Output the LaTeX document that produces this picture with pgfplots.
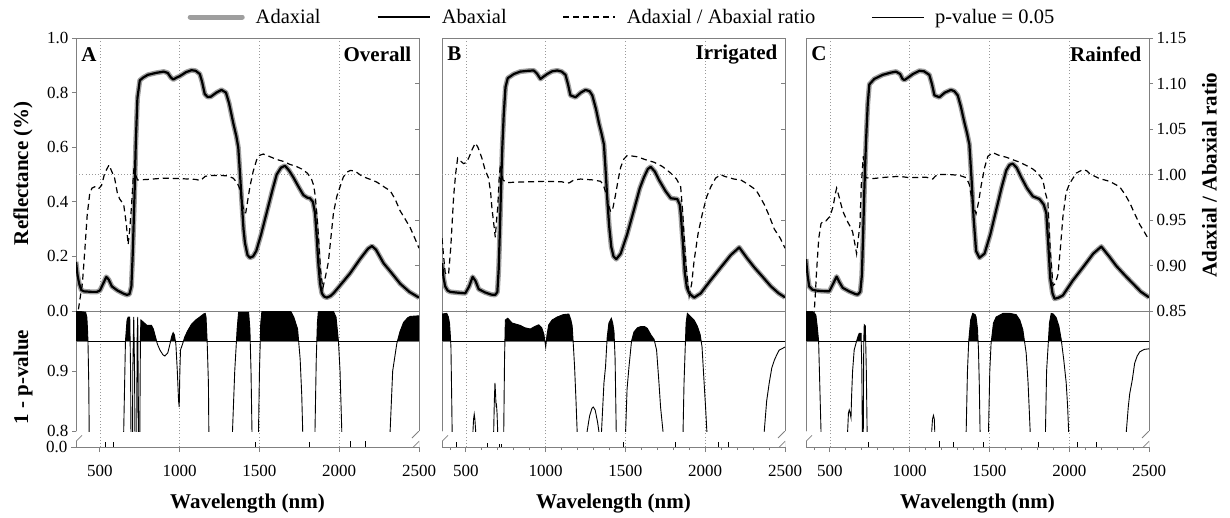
\documentclass[border=0pt]{standalone}
\usepackage{fontspec}
\setmainfont{Liberation Serif}
\usepackage{pgfplots}
\usepackage{pgfplotstable}
\pgfplotsset{compat=1.18}

\definecolor{frame}{gray}{0.5}
\definecolor{adax}{gray}{0.62}
\definecolor{gridc}{gray}{0.6}

\newcommand\tickfont{\fontsize{17}{20}\selectfont}
\newcommand\labfont{\fontsize{21}{24}\selectfont\bfseries}
\newcommand\legfont{\fontsize{20.5}{24}\selectfont}

% ---------------- data ----------------
\pgfplotstableread{
w v
350 0.18
360 0.13
370 0.10
383 0.077
400 0.072
450 0.070
480 0.070
500 0.075
520 0.10
540 0.125
555 0.115
575 0.090
610 0.075
650 0.063
670 0.059
685 0.062
697 0.09
705 0.20
712 0.33
718 0.45
725 0.62
735 0.78
750 0.845
771 0.855
800 0.865
850 0.872
900 0.877
925 0.872
945 0.855
960 0.848
980 0.855
1000 0.86
1040 0.875
1074 0.882
1100 0.880
1126 0.868
1140 0.84
1157 0.795
1175 0.784
1195 0.785
1230 0.80
1262 0.81
1290 0.80
1310 0.76
1335 0.69
1355 0.64
1367 0.60
1375 0.53
1388 0.41
1400 0.30
1409 0.25
1425 0.205
1440 0.195
1460 0.20
1480 0.22
1510 0.28
1545 0.36
1580 0.44
1608 0.50
1635 0.525
1660 0.532
1685 0.515
1712 0.49
1745 0.455
1775 0.425
1800 0.415
1817 0.413
1835 0.40
1848 0.36
1858 0.28
1869 0.175
1880 0.10
1891 0.065
1905 0.053
1922 0.049
1945 0.055
1964 0.065
2000 0.09
2068 0.138
2130 0.19
2180 0.228
2205 0.238
2230 0.225
2278 0.175
2330 0.138
2382 0.10
2440 0.07
2500 0.049
}\reflA

\pgfplotstableread{
w v
350 0.83
360 0.845
372 0.86
390 0.88
405 0.916
420 0.955
436 0.979
450 0.985
467 0.9865
490 0.984
510 0.988
530 1.0015
557 1.0105
575 1.003
592 0.996
610 0.979
624 0.973
649 0.967
665 0.946
677 0.923
687 0.94
697 0.963
710 1.0
718 1.016
725 1.0
735 0.994
800 0.9946
900 0.996
1000 0.9955
1100 0.9946
1130 0.9934
1160 0.998
1200 0.999
1250 0.999
1300 0.9985
1335 0.996
1360 0.991
1375 0.985
1390 0.97
1405 0.958
1414 0.958
1425 0.97
1440 0.9865
1460 1.003
1482 1.016
1500 1.021
1524 1.0225
1560 1.020
1608 1.0165
1650 1.0144
1692 1.011
1730 1.009
1765 1.006
1800 1.0015
1825 0.9955
1840 0.988
1850 0.976
1860 0.955
1869 0.934
1883 0.895
1897 0.875
1915 0.889
1932 0.904
1948 0.931
1964 0.958
1985 0.976
2005 0.9865
2025 0.997
2047 1.0024
2070 1.0045
2100 1.0036
2140 0.9985
2173 0.996
2205 0.994
2236 0.9916
2280 0.9865
2320 0.982
2350 0.973
2382 0.960
2415 0.9505
2445 0.9415
2475 0.9295
2500 0.919
}\ratA

\pgfplotstableread{
w v
350 0.999
380 0.999
410 0.998
418 0.99
422 0.97
425 0.95
430 0.88
436 0.7
645 0.7
649 0.8
660 0.95
670 0.985
677 0.99
687 0.99
692 0.9
697 0.7
703 0.7
706 0.9
712 0.99
717 0.9
722 0.7
729 0.7
733 0.95
737 0.99
742 0.8
747 0.7
750 0.8
754 0.96
757 0.985
770 0.982
795 0.976
823 0.976
835 0.97
844 0.961
860 0.945
876 0.935
895 0.927
907 0.925
925 0.93
939 0.945
950 0.958
959 0.964
967 0.96
976 0.945
985 0.9
993 0.85
997 0.84
1001 0.9
1005 0.935
1018 0.945
1032 0.957
1050 0.967
1074 0.978
1100 0.985
1126 0.99
1150 0.995
1160 0.996
1165 0.99
1172 0.95
1180 0.88
1186 0.7
1325 0.7
1331 0.8
1345 0.9
1360 0.97
1369 0.998
1432 0.998
1440 0.97
1447 0.9
1453 0.8
1457 0.7
1490 0.7
1494 0.8
1500 0.9
1508 0.98
1515 0.999
1697 0.999
1715 0.99
1739 0.97
1755 0.92
1765 0.86
1771 0.8
1775 0.7
1843 0.7
1848 0.8
1856 0.92
1863 0.98
1869 0.999
1964 0.999
1980 0.99
1995 0.95
2005 0.9
2016 0.8
2020 0.7
2315 0.7
2319 0.8
2335 0.9
2361 0.946
2380 0.965
2403 0.981
2430 0.989
2445 0.991
2500 0.992
}\pA

\pgfplotstableread{
w h
536 5
582 5
1475 5
1813 5
2069 6
2163 6
}\spA

\pgfplotstableread{
w v
350 0.175
360 0.12
370 0.09
385 0.075
402 0.07
450 0.067
496 0.065
520 0.09
542 0.125
560 0.11
580 0.08
620 0.068
660 0.06
684 0.059
697 0.07
705 0.15
712 0.28
720 0.45
728 0.6
737 0.72
748 0.82
762 0.853
800 0.868
841 0.877
890 0.88
925 0.881
945 0.87
967 0.85
990 0.86
1009 0.868
1040 0.878
1072 0.881
1100 0.877
1124 0.865
1140 0.83
1155 0.79
1187 0.783
1220 0.80
1250 0.81
1275 0.805
1292 0.79
1315 0.74
1333 0.69
1350 0.65
1365 0.61
1375 0.52
1386 0.41
1398 0.31
1411 0.235
1425 0.2
1442 0.19
1470 0.21
1510 0.28
1553 0.37
1590 0.45
1616 0.49
1640 0.52
1658 0.528
1685 0.51
1710 0.48
1750 0.44
1784 0.413
1825 0.41
1840 0.39
1846 0.36
1860 0.25
1872 0.14
1885 0.085
1899 0.065
1930 0.049
1972 0.065
2030 0.11
2098 0.16
2160 0.205
2213 0.233
2260 0.195
2307 0.16
2360 0.125
2412 0.09
2460 0.065
2500 0.05
}\reflB

\pgfplotstableread{
w v
350 0.93
360 0.91
370 0.892
380 0.89
391 0.89
405 0.92
423 0.976
435 1.0
448 1.018
465 1.015
485 1.012
500 1.013
517 1.018
540 1.028
559 1.0345
575 1.03
600 1.018
620 1.005
642 0.996
655 0.98
663 0.963
675 0.945
684 0.931
692 0.95
699 0.963
708 0.995
716 1.011
725 1.0
732 0.994
758 0.991
800 0.9915
900 0.992
1000 0.9925
1100 0.992
1134 0.9905
1150 0.991
1176 0.994
1218 0.995
1300 0.994
1344 0.9925
1360 0.989
1375 0.981
1392 0.968
1407 0.959
1420 0.962
1438 0.978
1455 0.995
1470 1.008
1490 1.017
1512 1.021
1574 1.0195
1630 1.016
1679 1.0135
1730 1.009
1784 1.0015
1820 0.995
1846 0.9865
1858 0.96
1867 0.934
1880 0.9
1899 0.866
1915 0.88
1930 0.905
1955 0.935
1982 0.957
2008 0.975
2035 0.9865
2065 0.996
2098 1.0
2120 0.998
2140 0.997
2180 0.995
2223 0.994
2270 0.989
2318 0.983
2345 0.975
2370 0.967
2400 0.955
2433 0.94
2470 0.93
2500 0.919
}\ratB

\pgfplotstableread{
w v
350 0.995
380 0.996
390 0.99
397 0.98
402 0.96
406 0.94
411 0.85
416 0.75
418 0.7
540 0.7
544 0.8
548 0.82
552 0.828
556 0.82
561 0.8
564 0.7
670 0.7
674 0.8
678 0.85
682 0.88
686 0.86
689 0.84
691 0.846
695 0.83
699 0.8
702 0.7
733 0.7
737 0.8
742 0.92
747 0.985
762 0.988
789 0.98
841 0.976
870 0.972
904 0.97
930 0.974
956 0.977
975 0.972
988 0.962
995 0.95
1000 0.94
1008 0.96
1019 0.977
1040 0.985
1072 0.99
1110 0.994
1145 0.995
1158 0.985
1166 0.975
1174 0.94
1181 0.907
1190 0.85
1197 0.8
1200 0.7
1255 0.7
1260 0.8
1275 0.825
1290 0.838
1298 0.84
1310 0.835
1325 0.815
1333 0.8
1337 0.7
1346 0.7
1350 0.8
1365 0.88
1375 0.907
1385 0.955
1396 0.98
1411 0.988
1420 0.98
1428 0.966
1435 0.92
1442 0.8
1446 0.7
1497 0.7
1501 0.8
1510 0.87
1522 0.907
1538 0.95
1553 0.965
1575 0.972
1595 0.974
1620 0.974
1637 0.971
1660 0.96
1679 0.953
1695 0.935
1710 0.88
1720 0.84
1735 0.8
1739 0.7
1857 0.7
1861 0.8
1867 0.88
1874 0.935
1880 0.98
1888 0.996
1910 0.99
1930 0.985
1950 0.975
1968 0.961
1980 0.94
1993 0.88
2002 0.84
2010 0.8
2013 0.7
2366 0.7
2370 0.8
2385 0.85
2401 0.88
2417 0.905
2433 0.918
2450 0.928
2464 0.935
2480 0.937
2500 0.94
}\pB

\pgfplotstableread{
w h
439 5
632 4
712 3
722 3
1488 5
1812 5
2084 5
2147 5
}\spB

\pgfplotstableread{
w v
350 0.19
360 0.13
370 0.09
390 0.078
412 0.075
450 0.073
496 0.072
520 0.10
542 0.126
560 0.105
580 0.085
620 0.072
660 0.062
674 0.06
690 0.07
700 0.13
708 0.28
716 0.45
726 0.62
737 0.76
747 0.83
778 0.85
830 0.865
880 0.873
914 0.877
940 0.868
955 0.85
967 0.846
990 0.855
1020 0.868
1061 0.88
1090 0.878
1123 0.865
1140 0.83
1155 0.79
1186 0.783
1220 0.80
1259 0.81
1280 0.805
1301 0.79
1320 0.75
1343 0.69
1360 0.65
1374 0.61
1388 0.48
1400 0.345
1416 0.22
1437 0.195
1469 0.21
1505 0.28
1542 0.37
1575 0.45
1605 0.515
1625 0.535
1646 0.54
1670 0.525
1699 0.49
1735 0.45
1772 0.42
1814 0.41
1840 0.39
1856 0.36
1868 0.25
1881 0.12
1895 0.065
1908 0.045
1930 0.048
1960 0.057
2020 0.11
2086 0.16
2150 0.21
2201 0.236
2250 0.20
2295 0.165
2350 0.13
2400 0.10
2450 0.07
2500 0.05
}\reflC

\pgfplotstableread{
w v
350 0.80
395 0.83
402 0.85
409 0.87
416 0.893
430 0.93
444 0.946
460 0.949
475 0.949
500 0.954
520 0.965
535 0.98
542 0.985
555 0.977
580 0.96
600 0.952
617 0.946
630 0.942
642 0.937
655 0.925
667 0.913
678 0.93
688 0.945
697 0.99
709 1.02
718 1.005
726 0.9965
768 0.9955
850 0.997
935 0.998
998 0.9965
1103 0.997
1144 0.995
1160 0.998
1176 1.0
1250 1.0
1312 0.999
1354 0.9965
1374 0.989
1395 0.967
1416 0.957
1432 0.97
1448 0.988
1470 1.008
1490 1.02
1521 1.024
1560 1.021
1605 1.019
1650 1.016
1689 1.0135
1730 1.01
1772 1.006
1800 1.002
1835 0.994
1850 0.98
1866 0.97
1880 0.92
1898 0.878
1912 0.88
1929 0.89
1945 0.92
1960 0.953
1980 0.98
2002 0.99
2044 1.0015
2086 1.0055
2110 1.004
2128 1.001
2160 0.998
2190 0.9955
2253 0.9925
2316 0.9865
2350 0.978
2379 0.969
2410 0.957
2442 0.945
2470 0.937
2500 0.928
}\ratC

\pgfplotstableread{
w v
350 0.999
370 0.999
391 0.999
402 0.997
412 0.993
420 0.975
429 0.95
436 0.88
444 0.8
447 0.7
607 0.7
611 0.8
616 0.83
621 0.835
626 0.83
632 0.822
636 0.86
642 0.9
652 0.935
663 0.946
675 0.957
684 0.963
695 0.963
700 0.9
703 0.8
706 0.7
709 0.8
712 0.95
715 0.977
722 0.975
728 0.9
733 0.8
736 0.7
1134 0.7
1138 0.8
1143 0.82
1149 0.826
1154 0.82
1157 0.8
1161 0.7
1350 0.7
1354 0.8
1362 0.9
1370 0.95
1382 0.985
1395 0.996
1410 0.994
1416 0.99
1425 0.97
1431 0.936
1436 0.88
1441 0.8
1445 0.7
1490 0.7
1494 0.8
1502 0.9
1510 0.946
1525 0.98
1542 0.99
1584 0.996
1630 0.996
1667 0.994
1690 0.985
1709 0.969
1730 0.93
1742 0.88
1755 0.8
1759 0.7
1847 0.7
1851 0.8
1858 0.9
1866 0.935
1876 0.98
1887 0.996
1900 0.995
1918 0.989
1935 0.975
1950 0.952
1965 0.92
1981 0.88
1990 0.84
1996 0.8
2000 0.7
2354 0.7
2358 0.8
2370 0.84
2379 0.862
2395 0.885
2410 0.913
2426 0.925
2442 0.932
2470 0.936
2500 0.937
}\pC

\pgfplotstableread{
w h
741 5
1189 6
1274 5
1463 5
1808 5
2053 5
2169 5
}\spC

% ---------------- styles ----------------
\pgfplotsset{
  base/.style={scale only axis, width=343pt, anchor=north west,
    xmin=350, xmax=2500,
    axis line style={frame, line width=0.9pt},
    tick style={frame, line width=0.9pt},
    tick label style={font=\tickfont},
    /pgf/number format/assume math mode=true,
    /pgf/number format/1000 sep={},
    scaled ticks=false,
    grid style={gridc, line width=0.8pt, dash pattern=on 0.8pt off 2.4pt},
    major tick length=4pt, minor tick length=3pt},
  upper/.style={base, height=273pt, ymin=0, ymax=1,
    xtick={500,1000,1500,2000}, xticklabels={}, xmajorgrids, xtick style={draw=none},
    ytick={0,0.2,0.4,0.6,0.8,1.0}, ytick pos=left, tick align=outside,
    extra y ticks={0.5}, extra y tick labels={},
    extra y tick style={grid=major, tick style={draw=none}},
    y tick label style={/pgf/number format/.cd, fixed, fixed zerofill, precision=1}},
  upA/.style={ylabel={Reflectance (\%)},
    every axis y label/.style={at={(axis description cs:-0.1545,0.505)}, anchor=center, rotate=90, font=\labfont}},
  upB/.style={yticklabels={}, ytick style={draw=none}},
  upC/.style={yticklabels={}, ytick style={draw=none}},
  ratio/.style={base, height=273pt, ymin=0.85, ymax=1.15, hide x axis,
    axis y line*=right,
    ytick={0.85,0.90,0.95,1.00,1.05,1.10,1.15},
    y tick label style={/pgf/number format/.cd, fixed, fixed zerofill, precision=2}},
  ratA/.style={tick align=inside, yticklabels={}},
  ratB/.style={tick align=inside, yticklabels={}},
  ratC/.style={tick align=outside, ylabel={Adaxial / Abaxial ratio},
    every axis y label/.style={at={(axis description cs:1.176,0.498)}, anchor=center, rotate=90, font=\labfont}},
  lower/.style={base, height=120pt, ymin=0.8, ymax=1.0,
    xtick={500,1000,1500,2000}, xticklabels={}, xmajorgrids, xtick style={draw=none},
    separate axis lines, x axis line style={draw=none},
    ytick={0.8,0.9}, ytick pos=left, tick align=outside,
    y tick label style={/pgf/number format/.cd, fixed, fixed zerofill, precision=1}},
  lowA/.style={ylabel={1 - p-value},
    every axis y label/.style={at={(axis description cs:-0.1545,0.45)}, anchor=center, rotate=90, font=\labfont}},
  lowB/.style={ytick=\empty},
  lowC/.style={ytick=\empty},
  band/.style={base, height=30pt, ymin=0.95, ymax=1.0, hide axis},
  strip/.style={base, height=16pt, ymin=0, ymax=16,
    axis line style={draw=none},
    xtick={500,1000,1500,2000}, xmajorgrids,
    extra x ticks={2500}, extra x tick style={grid=none},
    xtick pos=left, tick align=outside, major tick length=5pt,
    ytick={0}, yticklabels={0.0}, ytick pos=left,
    xticklabel style={yshift=-10pt},
    xlabel={Wavelength (nm)},
    every axis x label/.style={at={(axis description cs:0.5,0)}, anchor=center, yshift=-57pt, font=\labfont}},
  stripA/.style={},
  stripB/.style={ytick=\empty, minor xtick={400,600,700,800,900,1100,1200,1300,1400,1600,1700,1800,1900,2100,2200,2300,2400}},
  stripC/.style={ytick=\empty, minor xtick={400,600,700,800,900,1100,1200,1300,1400,1600,1700,1800,1900,2100,2200,2300,2400}},
}

% #1 left x, #2 refl, #3 ratio, #4 p, #5 spikes, #6 letter, #7 title, #8 id
\newcommand\panel[8]{%
  \begin{axis}[upper, up#8, at={(#1pt,-38pt)}]
    \addplot[adax, line width=5pt, line join=round] table[x=w,y=v] {#2};
    \addplot[black, line width=2.2pt, line join=round] table[x=w,y=v] {#2};
    \node[anchor=west, inner sep=0pt, font=\labfont] at (rel axis cs:0.015,0.941) {#6};
    \node[anchor=east, inner sep=0pt, font=\labfont] at (rel axis cs:0.978,0.941) {#7};
  \end{axis}
  \begin{axis}[ratio, rat#8, at={(#1pt,-38pt)}]
    \addplot[black, line width=1.2pt, dash pattern=on 6pt off 4pt] table[x=w,y=v] {#3};
  \end{axis}
  \begin{axis}[lower, low#8, at={(#1pt,-311pt)}]
    \addplot[frame, line width=0.9pt] coordinates {(350,0.95) (2500,0.95)};
    \addplot[black, line width=0.9pt] table[x=w,y=v] {#4};
  \end{axis}
  \begin{axis}[band, at={(#1pt,-311pt)}]
    \addplot[fill=black, draw=none] table[x=w,y=v] {#4} \closedcycle;
  \end{axis}
  \begin{axis}[strip, strip#8, at={(#1pt,-431pt)}]
    \addplot[ycomb, black, line width=0.9pt] table[x=w,y=h] {#5};
    \draw[frame, line width=0.9pt] (rel axis cs:0,0.4) -- (rel axis cs:0,0) -- (rel axis cs:1,0) -- (rel axis cs:1,0.4);
    \draw[frame, line width=0.8pt] ([shift={(-7pt,-7pt)}]rel axis cs:0,1) -- ([shift={(7pt,7pt)}]rel axis cs:0,1);
    \draw[frame, line width=0.8pt] ([shift={(-6pt,-6pt)}]rel axis cs:0,0.35) -- ([shift={(6pt,6pt)}]rel axis cs:0,0.35);
    \draw[frame, line width=0.8pt] ([shift={(-7pt,-7pt)}]rel axis cs:1,1) -- ([shift={(7pt,7pt)}]rel axis cs:1,1);
    \draw[frame, line width=0.8pt] ([shift={(-6pt,-6pt)}]rel axis cs:1,0.35) -- ([shift={(6pt,6pt)}]rel axis cs:1,0.35);
  \end{axis}
}

\begin{document}
\begin{tikzpicture}
\path[use as bounding box] (0pt,0pt) rectangle (1230pt,-517pt);

\panel{76}{\reflA}{\ratA}{\pA}{\spA}{A}{Overall}{A}
\panel{442}{\reflB}{\ratB}{\pB}{\spB}{B}{Irrigated}{B}
\panel{806}{\reflC}{\ratC}{\pC}{\spC}{C}{Rainfed}{C}

% legend
\begin{axis}[hide axis, scale only axis, width=1230pt, height=517pt,
  anchor=south west, at={(0pt,-517pt)},
  xmin=0, xmax=1, ymin=0, ymax=1,
  legend columns=4,
  legend image code/.code={\draw[#1] (0pt,0pt) -- (52pt,0pt);},
  legend style={at={(rel axis cs:0.5049,0.967)}, anchor=center, draw=none, fill=none,
    font=\legfont, inner sep=0pt, nodes={inner sep=0pt},
    /tikz/every odd column/.append style={column sep=11pt},
    /tikz/every even column/.append style={column sep=56pt}}]
  \addlegendimage{adax, line width=5pt, line cap=round}
  \addlegendentry{Adaxial}
  \addlegendimage{black, line width=2.2pt}
  \addlegendentry{Abaxial}
  \addlegendimage{black, line width=1.2pt, dash pattern=on 6pt off 4pt}
  \addlegendentry{Adaxial / Abaxial ratio}
  \addlegendimage{black, line width=0.8pt}
  \addlegendentry{p-value = 0.05}
\end{axis}
\end{tikzpicture}
\end{document}
